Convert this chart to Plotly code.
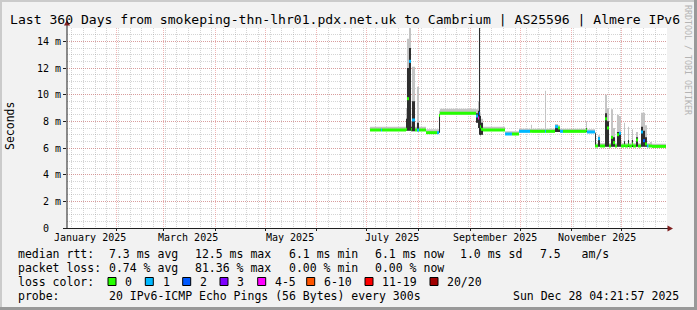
import plotly.graph_objects as go

FONT = "DejaVu Sans Mono"
W, H = 697, 310
L, R, T, B = 67, 30, 28, 82          # plot area 600 x 200 px
PW, PH = W - L - R, H - T - B

# ---------------- data ----------------
X_START = "2025-01-02 04:21:57"
X_END = "2025-12-28 04:21:57"
Y_MAX = 15  # ms

# step rows (each row holds until the next time stamp); values in ms
t = [
    "2025-07-03 00:00", "2025-07-09 14:00", "2025-07-10 04:00", "2025-07-24 14:00",
    "2025-07-25 04:00", "2025-07-26 09:00", "2025-07-27 14:00", "2025-07-28 04:00",
    "2025-07-30 00:00", "2025-07-31 04:00", "2025-08-01 09:00", "2025-08-05 14:00",
    "2025-08-12 04:00", "2025-08-13 09:00", "2025-08-14 00:00", "2025-09-04 14:00",
    "2025-09-05 19:00", "2025-09-06 09:00", "2025-09-07 00:00", "2025-09-07 14:00",
    "2025-09-08 19:00", "2025-09-22 00:00", "2025-09-26 04:00", "2025-09-30 09:00",
    "2025-10-07 00:00", "2025-10-07 14:00", "2025-10-08 04:00", "2025-10-16 00:00",
    "2025-10-16 14:00", "2025-10-22 00:00", "2025-10-23 19:00", "2025-10-25 00:00",
    "2025-10-26 19:00", "2025-11-09 14:00", "2025-11-10 04:00", "2025-11-15 00:00",
    "2025-11-15 14:00", "2025-11-16 19:00", "2025-11-18 00:00", "2025-11-21 00:00",
    "2025-11-22 04:00", "2025-11-23 09:00", "2025-11-24 14:00", "2025-11-25 19:00",
    "2025-11-27 00:00", "2025-11-28 04:00", "2025-11-29 09:00", "2025-11-30 14:00",
    "2025-12-02 09:00", "2025-12-03 00:00", "2025-12-04 19:00", "2025-12-05 09:00",
    "2025-12-07 04:00", "2025-12-07 19:00", "2025-12-09 14:00", "2025-12-10 19:00",
    "2025-12-12 14:00", "2025-12-13 19:00", "2025-12-15 00:00", "2025-12-16 04:00",
    "2025-12-17 00:00", "2025-12-18 00:00", "2025-12-19 04:00", "2025-12-27 14:00",
]
median = [
    7.35, 7.35, 7.35, 7.40, 9.70, 12.50, 7.40, 8.10,
    7.35, 7.35, 7.35, 7.15, 7.15, 8.45, 8.60, 8.40,
    8.25, 8.60, 7.60, 7.40, 7.35, 7.05, 7.05, 7.25,
    7.25, 7.25, 7.25, 7.25, 7.25, 7.60, 7.50, 7.25,
    7.25, 7.35, 7.20, 6.15, 6.15, 6.70, 6.15, 8.20,
    7.50, 6.15, 6.80, 6.40, 6.15, 7.00, 7.10, 6.15,
    6.20, 6.15, 6.25, 6.15, 6.30, 6.15, 6.60, 6.15,
    7.20, 6.55, 6.30, 6.15, 6.15, 6.15, 6.12, 6.12,
]
smoke_lo = [
    7.28, 7.28, 7.28, 7.30, 7.30, 7.30, 7.25, 7.25,
    7.28, 7.25, 7.28, 7.08, 7.08, 7.15, 8.52, 7.90,
    7.50, 7.00, 6.95, 7.00, 7.28, 6.98, 6.98, 7.18,
    7.18, 7.18, 7.18, 7.18, 7.18, 7.20, 7.20, 7.18,
    7.18, 7.18, 7.13, 6.10, 6.08, 6.10, 6.08, 6.10,
    6.10, 6.08, 6.10, 6.10, 6.08, 6.10, 6.10, 6.08,
    6.08, 6.08, 6.08, 6.08, 6.08, 6.08, 6.10, 6.08,
    6.10, 6.10, 6.10, 6.08, 6.08, 6.08, 6.06, 6.06,
]
smoke_core = [
    7.28, 7.28, 7.28, 8.20, 12.00, 13.50, 7.60, 9.50,
    7.28, 7.90, 7.28, 7.08, 7.08, 8.55, 8.52, 8.60,
    8.80, 15.00, 8.40, 7.90, 7.28, 6.98, 6.98, 7.18,
    7.18, 7.18, 7.18, 7.18, 7.18, 7.60, 7.50, 7.18,
    7.18, 7.50, 7.13, 7.10, 6.08, 6.80, 6.08, 8.60,
    8.00, 6.08, 6.90, 6.80, 6.08, 7.20, 7.20, 6.08,
    6.50, 6.08, 6.60, 6.08, 6.60, 6.08, 6.80, 6.08,
    7.60, 7.30, 6.80, 6.08, 6.08, 6.20, 6.06, 6.06,
]
smoke_hi = [
    7.60, 7.60, 7.60, 9.00, 14.20, 15.00, 8.00, 12.10,
    7.60, 10.60, 7.60, 7.40, 7.40, 8.80, 8.95, 8.90,
    9.50, 15.00, 8.60, 8.20, 7.60, 7.25, 7.25, 7.45,
    7.45, 7.75, 7.45, 10.30, 7.45, 7.80, 7.70, 7.45,
    7.45, 8.00, 7.40, 7.20, 6.35, 6.95, 6.35, 10.00,
    9.00, 6.35, 8.90, 7.50, 6.35, 8.50, 8.40, 6.35,
    7.90, 6.35, 7.60, 6.35, 7.40, 6.35, 7.20, 6.35,
    8.65, 8.65, 7.70, 6.35, 6.35, 6.45, 6.32, 6.32,
]
loss_bin = [
    0, 1, 0, 0, 0, 1, 0, 1,
    0, 1, 0, 0, 1, 0, 0, 1,
    4, 2, 0, 0, 0, 1, 0, 1,
    0, 0, 0, 1, 0, 1, 0, 1,
    0, 0, 1, 0, 0, 1, 0, 0,
    0, 0, 0, 0, 0, 0, 1, 0,
    0, 0, 0, 0, 0, 0, 0, 0,
    1, 2, 0, 1, 0, 0, 0, 0,
]

loss_labels = ["0", "1", "2", "3", "4-5", "6-10", "11-19", "20/20"]
loss_colors = ["#26ff00", "#00b8ff", "#0059ff", "#7e00ff",
               "#ff00ff", "#ff5500", "#ff0000", "#a10000"]

y_tickvals = [0, 2, 4, 6, 8, 10, 12, 14]
y_ticktext = ["0\u00a0\u00a0", "2 m", "4 m", "6 m", "8 m", "10 m", "12 m", "14 m"]

month_label_text = ["January 2025", "March 2025", "May 2025",
                    "July 2025", "September 2025", "November 2025"]
month_label_date = ["2025-01-16", "2025-03-16", "2025-05-16",
                    "2025-07-16", "2025-09-16", "2025-11-16"]

title_text = "Last 360 Days from smokeping-thn-lhr01.pdx.net.uk to Cambrium | AS25596 | Almere IPv6"

rtt_row = ["median rtt:", "7.3 ms avg", "12.5 ms max", "6.1 ms min", "6.1 ms now", "1.0 ms sd", "7.5   am/s"]
loss_row = ["packet loss:", "0.74 % avg", "81.36 % max", "0.00 % min", "0.00 % now"]
probe_row = ["probe:", "20 IPv6-ICMP Echo Pings (56 Bytes) every 300s"]
stamp_text = "Sun Dec 28 04:21:57 2025"

# ---------------- layout helpers ----------------
def fx(px):
    return (px - L) / PW


def fy(py):
    return (H - B - py) / PH


def nb(s):
    return s.replace(" ", "\u00a0")


fig = go.Figure()

# smoke: light extent
fig.add_trace(go.Scatter(x=t, y=smoke_lo, mode="lines", line=dict(width=0, shape="hv"),
                         hoverinfo="skip", showlegend=False))
fig.add_trace(go.Scatter(x=t, y=smoke_hi, mode="lines", line=dict(width=0, shape="hv"),
                         fill="tonexty", fillcolor="#c4c4c4", hoverinfo="skip", showlegend=False))
# smoke: dense core
fig.add_trace(go.Scatter(x=t, y=smoke_lo, mode="lines", line=dict(width=0, shape="hv"),
                         hoverinfo="skip", showlegend=False))
fig.add_trace(go.Scatter(x=t, y=smoke_core, mode="lines", line=dict(width=0, shape="hv"),
                         fill="tonexty", fillcolor="#2e2e2e", hoverinfo="skip", showlegend=False))

# median line coloured by loss
for b, col in enumerate(loss_colors):
    xs, ys = [], []
    for i in range(len(t) - 1):
        if loss_bin[i] == b:
            xs += [t[i], t[i + 1], None]
            ys += [median[i], median[i], None]
    if xs:
        fig.add_trace(go.Scatter(x=xs, y=ys, mode="lines", line=dict(color=col, width=3),
                                 hoverinfo="skip", showlegend=False))

MGRID = "rgba(222,80,80,0.42)"
GRID = "rgba(143,143,143,0.38)"

fig.update_layout(
    width=W, height=H,
    margin=dict(l=L, r=R, t=T, b=B, pad=0),
    paper_bgcolor="#f2f2f2",
    plot_bgcolor="#ffffff",
    showlegend=False,
    font=dict(family=FONT, color="#000000", size=10),
    xaxis=dict(
        type="date", range=[X_START, X_END], fixedrange=True,
        dtick="M1", tick0="2025-01-01",
        showticklabels=False, ticks="outside", ticklen=2, tickcolor="#1f1f1f",
        showgrid=True, gridcolor=MGRID, griddash="1px,1px", gridwidth=1,
        minor=dict(dtick=7 * 24 * 3600 * 1000, tick0="2025-01-05", showgrid=True,
                   gridcolor=GRID, griddash="1px,1px", gridwidth=1),
        showline=False, zeroline=False,
    ),
    yaxis=dict(
        range=[0, Y_MAX], fixedrange=True,
        tickmode="array", tickvals=y_tickvals, ticktext=y_ticktext,
        tickfont=dict(family=FONT, size=10, color="#000000"),
        ticks="outside", ticklen=3, tickcolor="#1f1f1f",
        showgrid=True, gridcolor=MGRID, griddash="1px,1px", gridwidth=1,
        minor=dict(dtick=0.5, showgrid=True, gridcolor=GRID, griddash="1px,1px", gridwidth=1),
        showline=False, zeroline=False,
    ),
)

shapes = []
# frame (3D look)
shapes.append(dict(type="rect", xref="paper", yref="paper", x0=fx(0), x1=fx(697), y0=fy(0), y1=fy(2),
                   fillcolor="#cbcbcb", line=dict(width=0), layer="below"))
shapes.append(dict(type="rect", xref="paper", yref="paper", x0=fx(0), x1=fx(2), y0=fy(0), y1=fy(310),
                   fillcolor="#cbcbcb", line=dict(width=0), layer="below"))
shapes.append(dict(type="rect", xref="paper", yref="paper", x0=fx(0), x1=fx(697), y0=fy(307), y1=fy(310),
                   fillcolor="#999999", line=dict(width=0), layer="below"))
shapes.append(dict(type="rect", xref="paper", yref="paper", x0=fx(694), x1=fx(697), y0=fy(0), y1=fy(310),
                   fillcolor="#999999", line=dict(width=0), layer="below"))
# axes with arrows
shapes.append(dict(type="line", xref="paper", yref="paper", x0=fx(67), x1=fx(67), y0=fy(228.5), y1=fy(24),
                   line=dict(color="#1f1f1f", width=1)))
shapes.append(dict(type="line", xref="paper", yref="paper", x0=fx(66), x1=fx(669), y0=fy(228.5), y1=fy(228.5),
                   line=dict(color="#1f1f1f", width=1)))
shapes.append(dict(type="path", xref="paper", yref="paper",
                   path=f"M {fx(64)} {fy(25.5)} L {fx(70)} {fy(25.5)} L {fx(67)} {fy(20)} Z",
                   fillcolor="#7f1f1f", line=dict(width=0)))
shapes.append(dict(type="path", xref="paper", yref="paper",
                   path=f"M {fx(667.5)} {fy(225.5)} L {fx(667.5)} {fy(231.5)} L {fx(673)} {fy(228.5)} Z",
                   fillcolor="#7f1f1f", line=dict(width=0)))

ann = []
ann.append(dict(text=title_text, x=fx(8), y=fy(19), xref="paper", yref="paper",
                xanchor="left", yanchor="middle", showarrow=False,
                font=dict(family=FONT, size=13.1, color="#000000")))
ann.append(dict(text="Seconds", x=fx(10), y=fy(126), xref="paper", yref="paper",
                xanchor="center", yanchor="middle", showarrow=False, textangle=-90,
                font=dict(family=FONT, size=11.5, color="#000000")))
ann.append(dict(text=nb("RRDTOOL / TOBI OETIKER"), x=fx(688), y=fy(60), xref="paper", yref="paper",
                xanchor="center", yanchor="middle", showarrow=False, textangle=90,
                font=dict(family=FONT, size=8.3, color="#b4b4b4")))
for lab, d in zip(month_label_text, month_label_date):
    ann.append(dict(text=nb(lab), x=d, y=fy(237.5), xref="x", yref="paper",
                    xanchor="center", yanchor="middle", showarrow=False,
                    font=dict(family=FONT, size=10, color="#000000")))

LEG = dict(family=FONT, size=11.5, color="#000000")
col_x = [16, 106.7, 193.3, 286.7, 372.7, 458.3, 538.3]
for row, yy in ((rtt_row, 254), (loss_row, 268.3)):
    for s, xx in zip(row, col_x):
        ann.append(dict(text=nb(s), x=fx(xx), y=fy(yy), xref="paper", yref="paper",
                        xanchor="left", yanchor="middle", showarrow=False, font=LEG))
ann.append(dict(text=nb("loss color:"), x=fx(16), y=fy(281.7), xref="paper", yref="paper",
                xanchor="left", yanchor="middle", showarrow=False, font=LEG))
box_x = [108, 145.3, 182.7, 220, 257.7, 306.7, 365, 430]
for lab, col, bx in zip(loss_labels, loss_colors, box_x):
    shapes.append(dict(type="rect", xref="paper", yref="paper",
                       x0=fx(bx), x1=fx(bx + 8), y0=fy(277.5), y1=fy(285.5),
                       fillcolor=col, line=dict(color="#000000", width=1)))
    ann.append(dict(text=nb(lab), x=fx(bx + 15.3), y=fy(281.7), xref="paper", yref="paper",
                    xanchor="left", yanchor="middle", showarrow=False, font=LEG))
for s, xx in zip(probe_row, col_x):
    ann.append(dict(text=nb(s), x=fx(xx), y=fy(296), xref="paper", yref="paper",
                    xanchor="left", yanchor="middle", showarrow=False, font=LEG))
ann.append(dict(text=nb(stamp_text), x=fx(681), y=fy(296), xref="paper", yref="paper",
                xanchor="right", yanchor="middle", showarrow=False, font=LEG))

fig.update_layout(shapes=shapes, annotations=ann)
fig.write_html("out.html")
